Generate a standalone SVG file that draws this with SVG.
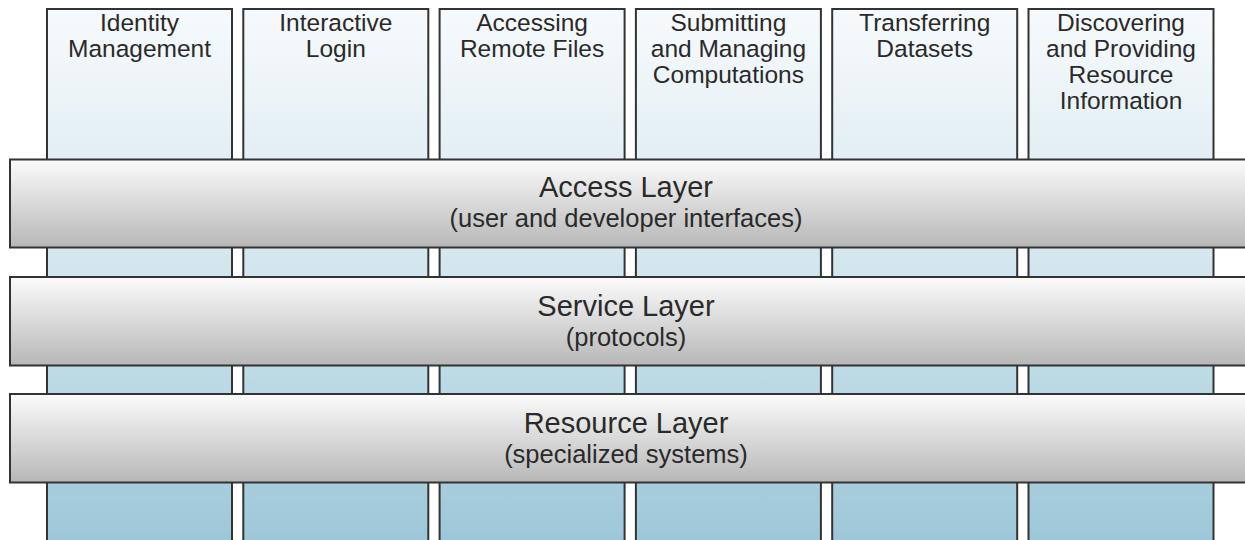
<svg xmlns="http://www.w3.org/2000/svg" width="1245" height="540" viewBox="0 0 1245 540">
<defs>
<linearGradient id="colGrad" gradientUnits="userSpaceOnUse" x1="0" y1="9" x2="0" y2="540">
<stop offset="0" stop-color="#f7fafc"/>
<stop offset="0.45" stop-color="#d6e8ef"/>
<stop offset="0.7" stop-color="#bcdae5"/>
<stop offset="1" stop-color="#9dc7d9"/>
</linearGradient>
<linearGradient id="barGrad" x1="0" y1="0" x2="0" y2="1">
<stop offset="0" stop-color="#fbfbfb"/>
<stop offset="0.12" stop-color="#f3f3f3"/>
<stop offset="1" stop-color="#b7b7b7"/>
</linearGradient>
</defs>
<style>
.col{fill:url(#colGrad);stroke:#333;stroke-width:2}
.bar{fill:url(#barGrad);stroke:#333;stroke-width:2}
.t{font-family:"Liberation Sans",Arial,Helvetica,sans-serif;fill:#2a2a2a;text-anchor:middle}
.ct{font-size:24.5px}
.b1{font-size:29px}
.b2{font-size:25.5px}
</style>
<rect width="1245" height="540" fill="#ffffff"/>
<g id="col-identity">
<rect class="col" x="47" y="9" width="185" height="540"/>
<text class="t ct" x="139.5" y="31">Identity</text>
<text class="t ct" x="139.5" y="57">Management</text>
</g>
<g id="col-login">
<rect class="col" x="243.3" y="9" width="185" height="540"/>
<text class="t ct" x="335.8" y="31">Interactive</text>
<text class="t ct" x="335.8" y="57">Login</text>
</g>
<g id="col-files">
<rect class="col" x="439.6" y="9" width="185" height="540"/>
<text class="t ct" x="532.1" y="31">Accessing</text>
<text class="t ct" x="532.1" y="57">Remote Files</text>
</g>
<g id="col-compute">
<rect class="col" x="635.9" y="9" width="185" height="540"/>
<text class="t ct" x="728.4" y="31">Submitting</text>
<text class="t ct" x="728.4" y="57">and Managing</text>
<text class="t ct" x="728.4" y="83">Computations</text>
</g>
<g id="col-transfer">
<rect class="col" x="832.2" y="9" width="185" height="540"/>
<text class="t ct" x="924.7" y="31">Transferring</text>
<text class="t ct" x="924.7" y="57">Datasets</text>
</g>
<g id="col-discover">
<rect class="col" x="1028.5" y="9" width="185" height="540"/>
<text class="t ct" x="1121" y="31">Discovering</text>
<text class="t ct" x="1121" y="57">and Providing</text>
<text class="t ct" x="1121" y="83">Resource</text>
<text class="t ct" x="1121" y="109">Information</text>
</g>
<g id="layer-access">
<rect class="bar" x="10" y="159.5" width="1245" height="88"/>
<text class="t b1" x="626" y="197">Access Layer</text>
<text class="t b2" x="626" y="227">(user and developer interfaces)</text>
</g>
<g id="layer-service">
<rect class="bar" x="10" y="277" width="1245" height="88.5"/>
<text class="t b1" x="626" y="316">Service Layer</text>
<text class="t b2" x="626" y="346">(protocols)</text>
</g>
<g id="layer-resource">
<rect class="bar" x="10" y="394" width="1245" height="88.5"/>
<text class="t b1" x="626" y="433">Resource Layer</text>
<text class="t b2" x="626" y="463">(specialized systems)</text>
</g>
<g id="connectors"/>
</svg>
